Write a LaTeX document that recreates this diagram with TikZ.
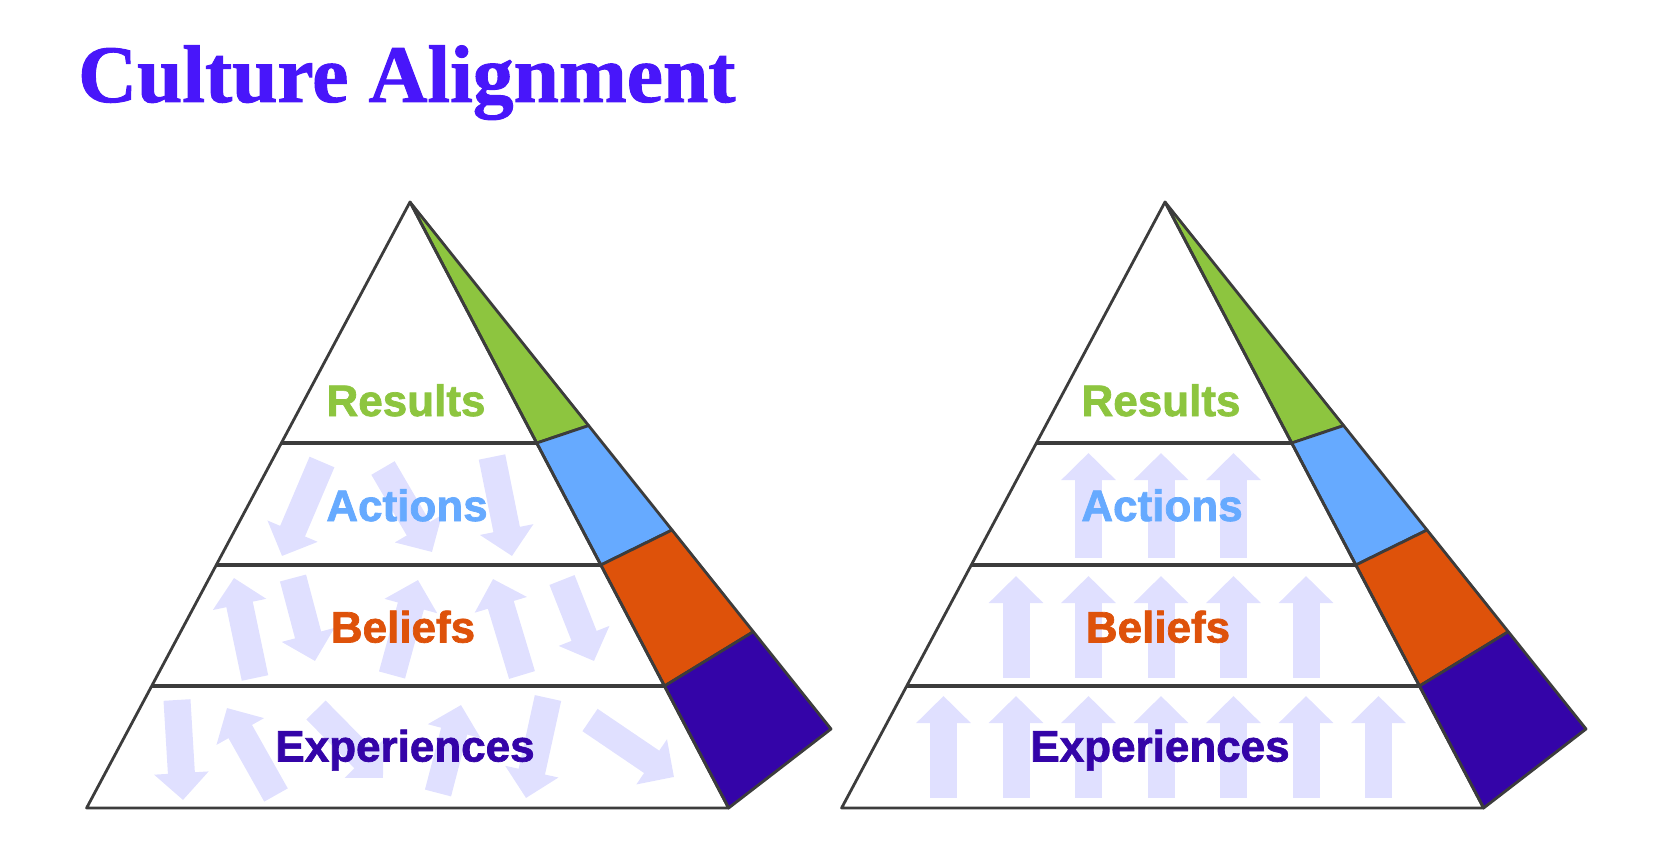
\documentclass[tikz,border=0pt]{standalone}
\usepackage{fontspec}
\usepackage{tikz}
\usetikzlibrary{calc,arrows.meta}
\usepackage{xcolor}
\setmainfont{Liberation Sans}
\newfontfamily\labelfont{Liberation Sans Bold}[FakeBold=1.6]
\newfontfamily\titlefont{Liberation Serif Bold}[FakeBold=1.2]

\definecolor{titleblue}{RGB}{72,22,250}
\definecolor{resgreen}{RGB}{141,197,63}
\definecolor{actblue}{RGB}{102,170,255}
\definecolor{belorange}{RGB}{222,82,10}
\definecolor{expurple}{RGB}{52,4,168}
\definecolor{arrowlav}{RGB}{224,224,255}
\definecolor{edgegray}{RGB}{60,60,60}

\tikzset{
  edge/.style={draw=edgegray, line width=2.8pt, line join=round},
  layerline/.style={edgegray, line width=4pt},
  flowarrow/.style={arrowlav, line width=27pt, -{Triangle[length=27pt,width=53pt]}},
  layerlabel/.style={font=\labelfont\fontsize{44}{50}\selectfont, inner sep=0pt, anchor=base},
}

\begin{document}
\begin{tikzpicture}[x=1pt,y=-1pt]
\useasboundingbox (0,0) rectangle (1656,858);

\node[anchor=base west, inner sep=0pt, text=titleblue, font=\titlefont\fontsize{81.5}{90}\selectfont] (title) at (78,102) {Culture Alignment};

% Corners of both pyramids, the second one shifted to the right
\foreach \p/\dx in {l/0, r/755} {
    \coordinate (top\p) at (410+\dx,202);
    \coordinate (bl\p) at (86.6+\dx,808);
    \coordinate (br\p) at (728.6+\dx,808);
    \coordinate (back\p) at (831+\dx,729);
    \foreach \i/\t/\s in {1/0.3977/0.4243, 2/0.599/0.6224, 3/0.7987/0.8154} {
        \coordinate (fl\p\i) at ($(top\p)!\t!(bl\p)$);
        \coordinate (fr\p\i) at ($(top\p)!\t!(br\p)$);
        \coordinate (bk\p\i) at ($(top\p)!\s!(back\p)$);
    }
}

% Scattered arrows in the left pyramid
\foreach \ax/\ay/\bx/\by in {322/462/282/556, 383/468/432/552, 492/457/512/556,
    255/678/234/578, 293/578/315/661, 392/675/418/580, 522/675/493/579, 562/580/594/661,
    177/700/183/800, 276/795/227/708, 316/710/383/778, 438/793/461/705, 548/698/526/798, 590/720/674/777} {
    \draw[flowarrow] (\ax,\ay) -- (\bx,\by);
}

% Aligned arrows in the right pyramid
\def\gap{72.5}
\foreach \n/\tail/\tip in {1/557.7/453, 2/678/576, 3/798/696} {
    \foreach \k in {-\n,...,\n} {
        \draw[flowarrow] (1161+\gap*\k,\tail) -- (1161+\gap*\k,\tip);
    }
}

% Faces, layer lines and labels
\foreach \p/\dx in {l/0, r/755} {
    \filldraw[edge, fill=resgreen] (top\p) -- (fr\p1) -- (bk\p1) -- cycle;
    \filldraw[edge, fill=actblue] (fr\p1) -- (fr\p2) -- (bk\p2) -- (bk\p1) -- cycle;
    \filldraw[edge, fill=belorange] (fr\p2) -- (fr\p3) -- (bk\p3) -- (bk\p2) -- cycle;
    \filldraw[edge, fill=expurple] (fr\p3) -- (br\p) -- (back\p) -- (bk\p3) -- cycle;
    \draw[edge] (top\p) -- (bl\p) -- (br\p) -- cycle;
    \foreach \i in {1,2,3} {
        \draw[layerline] (fl\p\i) -- (fr\p\i);
    }

    \node[layerlabel, text=resgreen] (res\p) at (406+\dx,416) {Results};
    \node[layerlabel, text=actblue] (act\p) at (407+\dx,521) {Actions};
    \node[layerlabel, text=belorange] (bel\p) at (403+\dx,642.5) {Beliefs};
    \node[layerlabel, text=expurple] (exp\p) at (405+\dx,761.5) {Experiences};
}

\end{tikzpicture}
\end{document}
